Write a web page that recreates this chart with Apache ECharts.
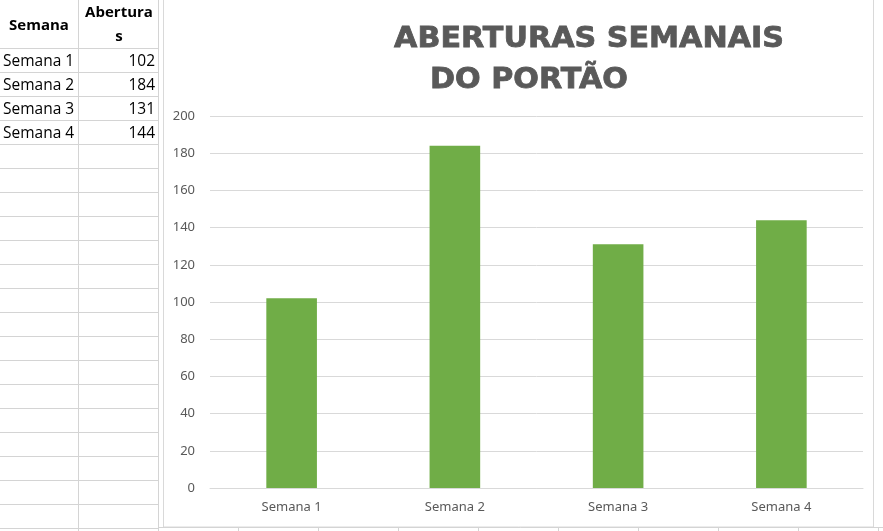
<!DOCTYPE html>
<html><head><meta charset="utf-8">
<script src="https://cdn.jsdelivr.net/npm/echarts@6/dist/echarts.min.js"></script>
<style>html,body{margin:0;padding:0;background:#fff}#c{width:883px;height:531px}</style>
</head><body><div id="c"></div>
<script>
var categories = ['Semana 1', 'Semana 2', 'Semana 3', 'Semana 4'];
var aberturas = [102, 184, 131, 144];
var headerCols = ['Semana', 'Abertura\ns'];
var titleLines = ['ABERTURAS SEMANAIS', 'DO PORTÃO'];

var chart = echarts.init(document.getElementById('c'));
var g = [];
var gridColor = '#d4d4d4';
for (var y = 48; y <= 531; y += 24) {
  g.push({type:'line', shape:{x1:0,y1:y+0.5,x2:158,y2:y+0.5}, style:{stroke:gridColor,lineWidth:1}, silent:true});
}
[78, 158].forEach(function(x){
  g.push({type:'line', shape:{x1:x+0.5,y1:0,x2:x+0.5,y2:531}, style:{stroke:gridColor,lineWidth:1}, silent:true});
});
g.push({type:'line', shape:{x1:158,y1:527.5,x2:883,y2:527.5}, style:{stroke:gridColor,lineWidth:1}, silent:true});
[238,318,398,478,558,638,718,798,878].forEach(function(x){
  g.push({type:'line', shape:{x1:x+0.5,y1:527,x2:x+0.5,y2:531}, style:{stroke:gridColor,lineWidth:1}, silent:true});
});
g.push({type:'rect', shape:{x:163.5,y:-2,width:710,height:529}, style:{fill:'#fff',stroke:'#d9d9d9',lineWidth:1}, silent:true, z:-1});
var cellFont = '15.5px "Open Sans", sans-serif';
var headFont = 'bold 15px "Open Sans", sans-serif';
g.push({type:'text', x:39, y:26, style:{text:headerCols[0], font:headFont, fill:'#000', align:'center', verticalAlign:'middle'}});
g.push({type:'text', x:119, y:25, style:{text:headerCols[1], font:headFont, fill:'#000', align:'center', verticalAlign:'middle', lineHeight:24}});
categories.forEach(function(c, i){
  var cy = 61.5 + i*24;
  g.push({type:'text', x:3, y:cy, style:{text:c, font:cellFont, fill:'#000', align:'left', verticalAlign:'middle'}});
  g.push({type:'text', x:155, y:cy, style:{text:String(aberturas[i]), font:cellFont, fill:'#000', align:'right', verticalAlign:'middle'}});
});
var titleFont = 'bold 29px "DejaVu Sans", sans-serif';
g.push({type:'text', x:589, y:39.5, scaleX:1.04, style:{text:titleLines[0], font:titleFont, fill:'#595959', stroke:'#595959', lineWidth:0.8, align:'center', verticalAlign:'middle'}});
g.push({type:'text', x:529, y:80, scaleX:1.04, style:{text:titleLines[1], font:titleFont, fill:'#595959', stroke:'#595959', lineWidth:0.8, align:'center', verticalAlign:'middle'}});

chart.setOption({
  animation:false,
  backgroundColor:'#fff',
  graphic:g,
  grid:{left:210, right:20, top:116, bottom:43, containLabel:false},
  xAxis:{type:'category', data:categories,
    axisLine:{lineStyle:{color:'#d9d9d9'}}, axisTick:{show:false},
    axisLabel:{color:'#595959', fontSize:13, fontFamily:'"Noto Sans", sans-serif', margin:13}},
  yAxis:{type:'value', min:0, max:200, interval:20,
    axisLine:{show:false}, axisTick:{show:false},
    splitLine:{lineStyle:{color:'#d9d9d9'}},
    axisLabel:{color:'#595959', fontSize:13, fontFamily:'"Noto Sans", sans-serif', margin:15}},
  series:[{type:'bar', data:aberturas, barWidth:'31%', itemStyle:{color:'#70ad47'}}]
});
</script></body></html>
